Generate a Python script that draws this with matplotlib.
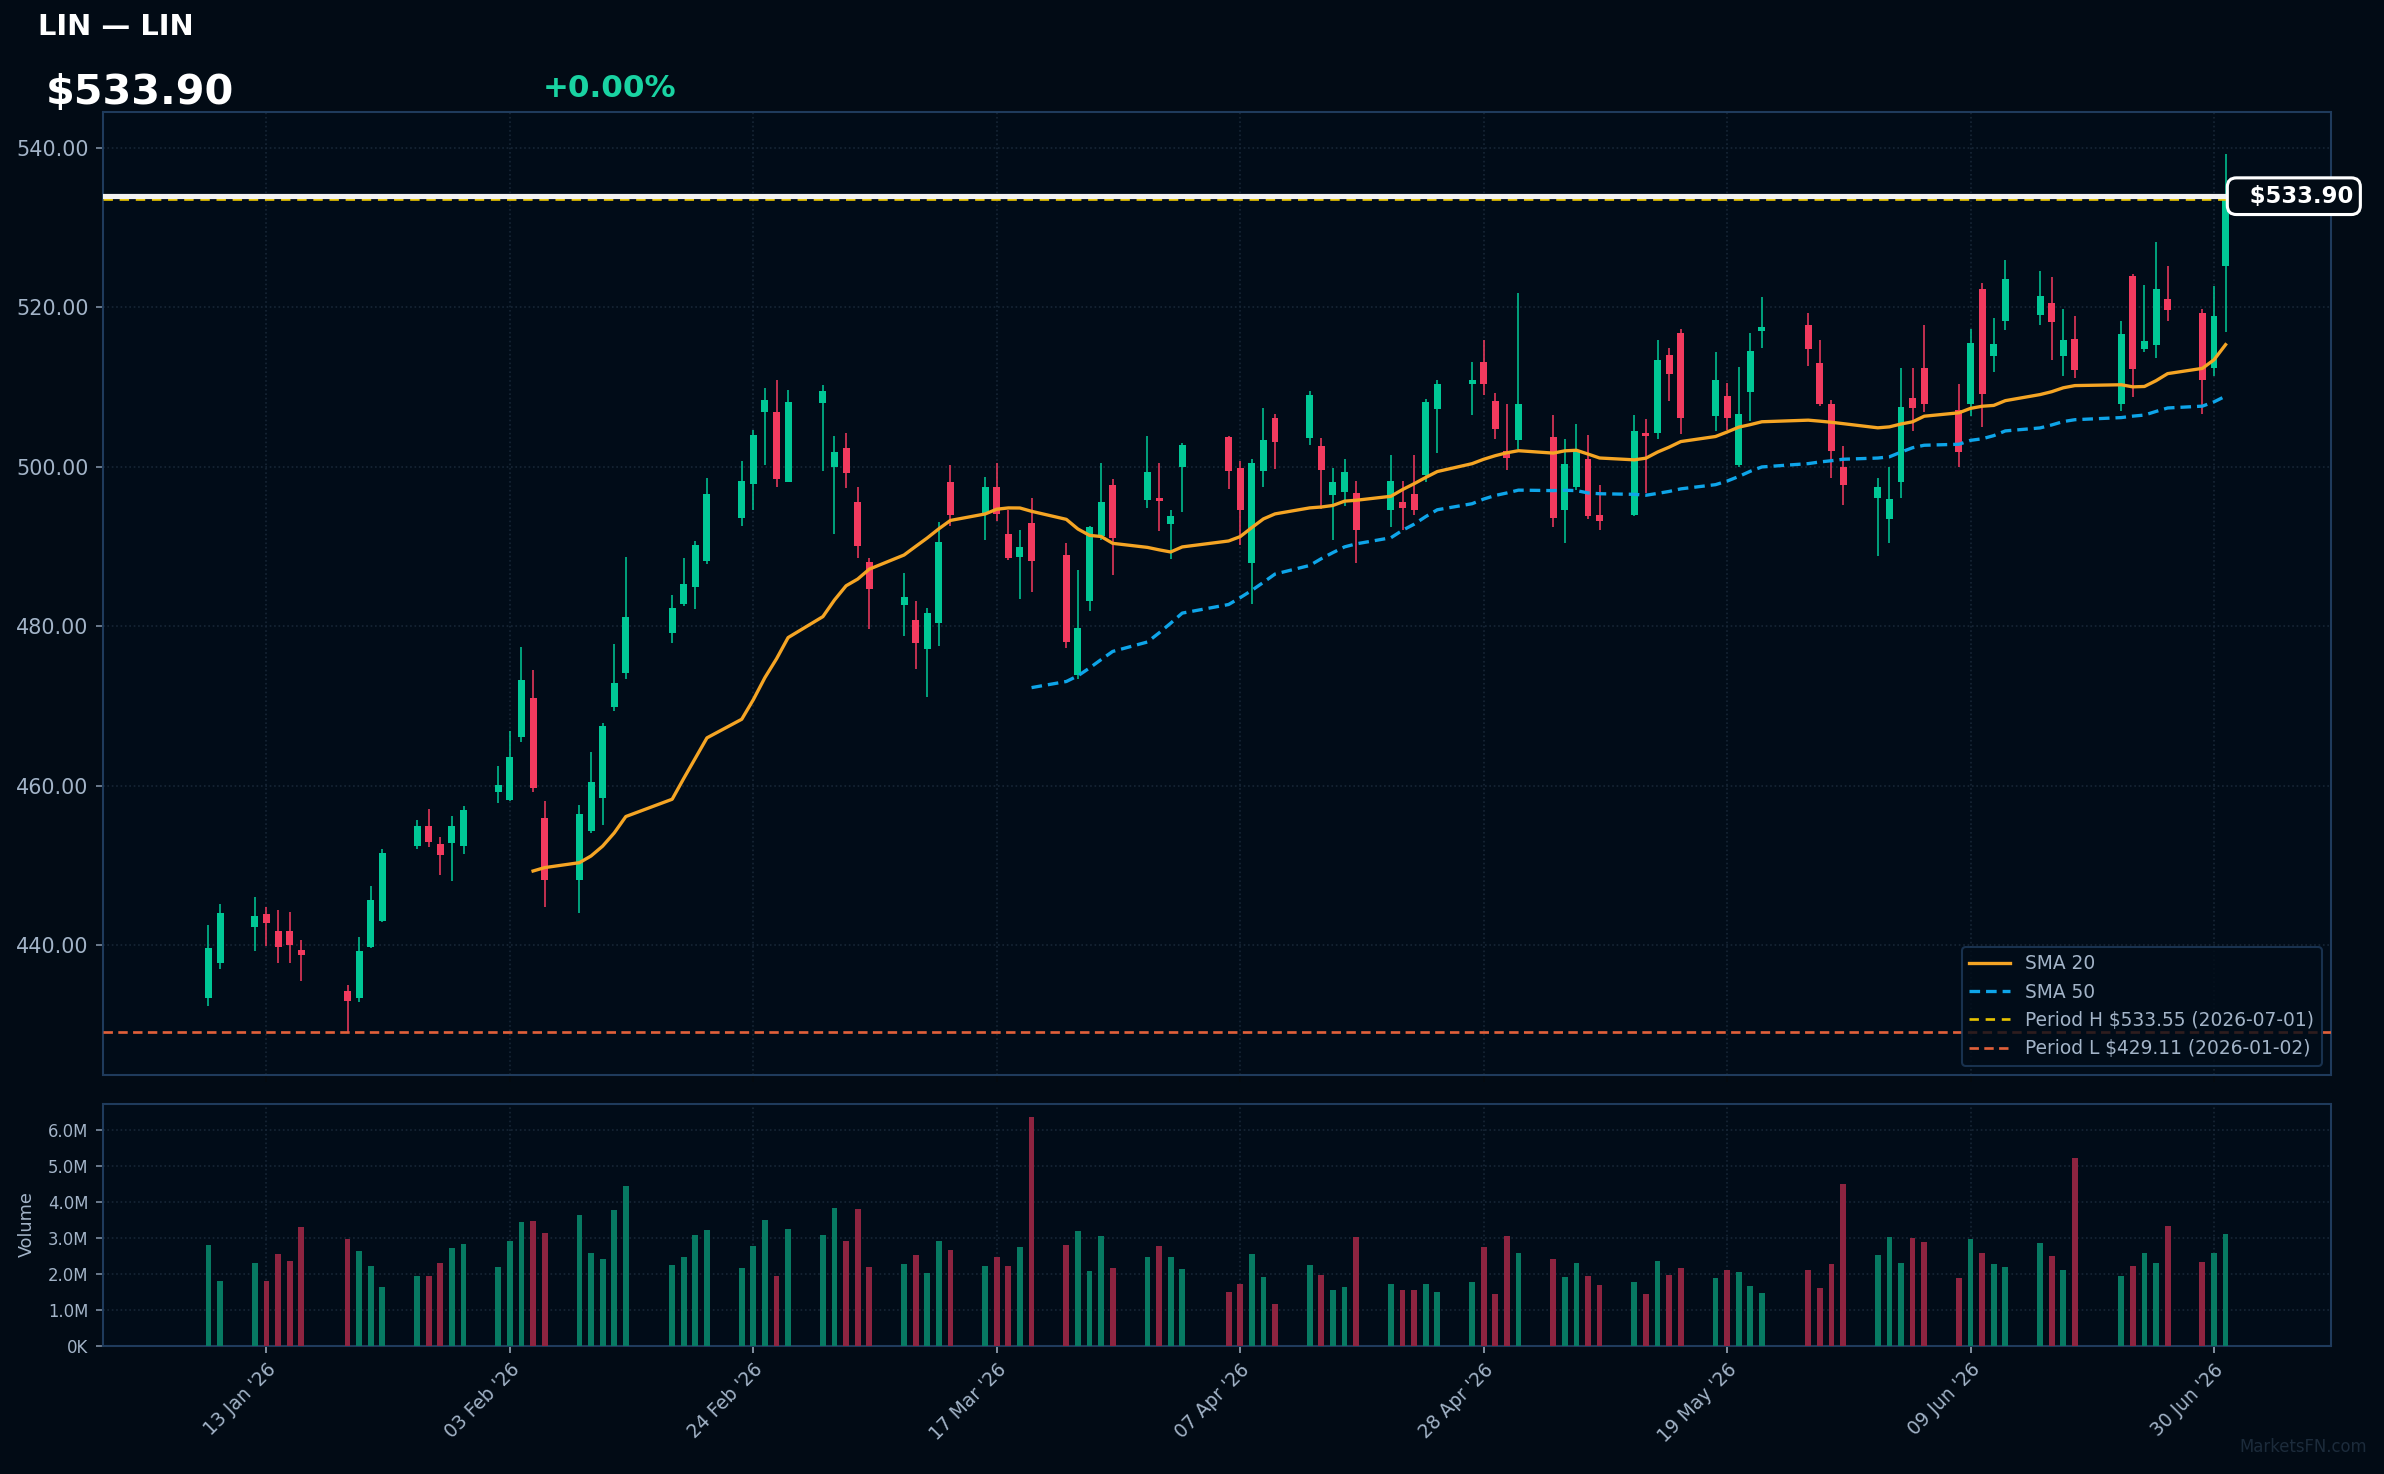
import matplotlib
matplotlib.use('Agg')
import matplotlib.pyplot as plt
import matplotlib.dates as mdates
import matplotlib.transforms as mtransforms
import pandas as pd
import numpy as np

# ---------------- data ----------------
dates = [
    '2026-01-08','2026-01-09','2026-01-12','2026-01-13','2026-01-14','2026-01-15','2026-01-16',
    '2026-01-20','2026-01-21','2026-01-22','2026-01-23','2026-01-26','2026-01-27','2026-01-28',
    '2026-01-29','2026-01-30',
    '2026-02-02','2026-02-03','2026-02-04','2026-02-05','2026-02-06','2026-02-09','2026-02-10',
    '2026-02-11','2026-02-12','2026-02-13','2026-02-17','2026-02-18','2026-02-19','2026-02-20',
    '2026-02-23','2026-02-24','2026-02-25','2026-02-26','2026-02-27',
    '2026-03-02','2026-03-03','2026-03-04','2026-03-05','2026-03-06','2026-03-09','2026-03-10',
    '2026-03-11','2026-03-12','2026-03-13','2026-03-16','2026-03-17','2026-03-18','2026-03-19',
    '2026-03-20','2026-03-23','2026-03-24','2026-03-25','2026-03-26','2026-03-27','2026-03-30',
    '2026-03-31',
    '2026-04-01','2026-04-02','2026-04-06','2026-04-07','2026-04-08','2026-04-09','2026-04-10',
    '2026-04-13','2026-04-14','2026-04-15','2026-04-16','2026-04-17','2026-04-20','2026-04-21',
    '2026-04-22','2026-04-23','2026-04-24','2026-04-27','2026-04-28','2026-04-29','2026-04-30',
    '2026-05-01','2026-05-04','2026-05-05','2026-05-06','2026-05-07','2026-05-08','2026-05-11',
    '2026-05-12','2026-05-13','2026-05-14','2026-05-15','2026-05-18','2026-05-19','2026-05-20',
    '2026-05-21','2026-05-22','2026-05-26','2026-05-27','2026-05-28','2026-05-29',
    '2026-06-01','2026-06-02','2026-06-03','2026-06-04','2026-06-05','2026-06-08','2026-06-09',
    '2026-06-10','2026-06-11','2026-06-12','2026-06-15','2026-06-16','2026-06-17','2026-06-18',
    '2026-06-22','2026-06-23','2026-06-24','2026-06-25','2026-06-26','2026-06-29','2026-06-30',
    '2026-07-01',
]

opens = [
    433.3, 437.7, 442.3, 443.9, 441.8, 441.8, 439.4, 434.2, 433.4, 439.7, 443.0, 452.4, 454.9, 452.7, 452.8, 452.4,
    459.2, 458.2, 466.1, 471.0, 455.9, 448.1, 454.3, 458.4, 469.8, 474.1, 479.1, 482.7, 484.9, 488.1, 493.5, 497.8,
    506.8, 506.9, 498.1,
    508.0, 500.0, 502.3, 495.6, 488.0, 482.6, 480.8, 477.1, 480.4, 498.0, 494.1, 497.4, 491.5, 488.7, 492.9, 488.9,
    473.8, 483.1, 491.3, 497.7, 495.8, 496.1,
    492.8, 500.0, 503.7, 499.8, 487.9, 499.5, 506.1, 503.6, 502.6, 496.4, 496.8, 496.7, 494.5, 495.6, 496.5, 499.0,
    507.2, 510.3, 513.1, 508.2, 502.0,
    503.3, 503.7, 494.5, 497.4, 501.0, 493.9, 493.9, 504.2, 504.2, 514.0, 516.8, 506.3, 508.8, 500.2, 509.4, 517.0,
    517.8, 513.0, 507.9, 500.0,
    496.0, 493.4, 498.0, 508.6, 512.3, 507.1, 507.9, 522.3, 513.9, 518.3, 519.0, 520.5, 513.9, 516.0, 507.9, 523.9,
    514.7, 515.2, 521.0, 519.2, 512.3,
    525.2,
]
highs = [
    442.5, 445.1, 446.0, 444.8, 444.4, 444.1, 440.6, 435.0, 441.0, 447.4, 452.0, 455.7, 457.1, 453.5, 456.2, 457.4,
    462.4, 466.8, 477.4, 474.5, 458.1, 457.6, 464.2, 467.8, 477.7, 488.7, 483.9, 488.5, 490.7, 498.5, 500.7, 504.6,
    509.8, 510.8, 509.6,
    510.2, 503.8, 504.2, 497.4, 488.5, 486.7, 483.2, 482.2, 493.0, 500.2, 498.7, 500.5, 494.6, 492.0, 496.0, 490.4,
    487.0, 492.6, 500.5, 498.4, 503.8, 500.4,
    494.6, 502.9, 503.8, 500.7, 501.0, 507.3, 506.6, 509.5, 503.6, 499.8, 500.9, 498.2, 501.5, 498.2, 501.4, 508.5,
    510.8, 513.1, 515.9, 509.2, 507.8,
    521.7, 506.4, 503.5, 505.3, 503.9, 497.7, 506.4, 505.9, 515.9, 514.9, 517.2, 514.3, 510.5, 512.5, 516.7, 521.3,
    519.2, 515.9, 508.4, 502.6,
    498.5, 499.9, 512.3, 512.3, 517.8, 510.4, 517.2, 523.0, 518.6, 525.9, 524.5, 523.8, 519.7, 518.9, 518.2, 524.1,
    522.8, 528.1, 525.1, 519.7, 522.7,
    539.2,
]
lows = [
    432.3, 437.0, 439.3, 439.9, 437.8, 437.7, 435.5, 429.1, 432.9, 439.6, 442.9, 452.1, 452.3, 448.8, 448.0, 451.4,
    457.8, 458.1, 465.5, 459.2, 444.8, 444.0, 454.1, 455.1, 469.4, 473.3, 477.9, 482.5, 482.1, 487.8, 492.6, 494.5,
    500.2, 497.4, 498.1,
    499.5, 491.5, 497.3, 488.5, 479.6, 478.7, 474.6, 471.1, 477.5, 492.6, 490.8, 493.2, 488.3, 483.4, 484.3, 477.2,
    473.4, 481.9, 490.8, 486.4, 494.8, 491.9,
    488.4, 494.3, 497.2, 490.1, 482.7, 497.4, 499.7, 502.7, 494.7, 490.8, 495.1, 487.9, 492.4, 492.1, 493.9, 498.0,
    501.7, 506.4, 509.0, 503.4, 499.6,
    502.2, 492.4, 490.4, 497.1, 493.4, 492.1, 493.8, 496.7, 503.5, 508.2, 504.1, 504.5, 504.6, 499.9, 505.7, 514.9,
    512.6, 507.6, 498.5, 495.2,
    488.8, 490.4, 496.0, 504.4, 506.9, 499.9, 506.3, 504.9, 511.9, 517.1, 517.7, 513.4, 511.3, 511.1, 507.0, 508.7,
    514.3, 513.6, 518.3, 506.6, 511.4,
    516.9,
]
closes = [
    439.6, 444.0, 443.6, 442.8, 439.8, 440.0, 438.8, 433.0, 439.3, 445.7, 451.5, 454.9, 452.9, 451.3, 454.9, 456.9,
    460.1, 463.6, 473.2, 459.7, 448.1, 456.4, 460.4, 467.5, 472.9, 481.1, 482.2, 485.3, 490.1, 496.5, 498.2, 504.0,
    508.3, 498.4, 508.1,
    509.5, 501.8, 499.2, 490.0, 484.6, 483.6, 477.9, 481.6, 490.5, 493.9, 497.4, 494.1, 488.5, 489.9, 488.2, 478.0,
    479.8, 492.4, 495.5, 491.0, 499.3, 495.7,
    493.8, 502.7, 499.5, 494.6, 500.5, 503.3, 503.1, 509.0, 499.6, 498.0, 499.3, 492.1, 498.2, 494.8, 494.5, 508.1,
    510.3, 510.8, 510.3, 504.7, 501.1,
    507.9, 493.5, 500.3, 501.9, 493.8, 493.2, 504.4, 503.8, 513.3, 511.6, 506.1, 510.9, 506.1, 506.6, 514.5, 517.5,
    514.8, 507.8, 501.9, 497.7,
    497.4, 495.9, 507.5, 507.4, 507.8, 501.8, 515.5, 509.1, 515.4, 523.5, 521.4, 518.1, 515.9, 512.1, 516.6, 512.2,
    515.8, 522.3, 519.6, 510.9, 518.9,
    533.9,
]
volumes_m = [
    2.79, 1.79, 2.29, 1.79, 2.54, 2.34, 3.29, 2.95, 2.62, 2.20, 1.62, 1.93, 1.93, 2.29, 2.70, 2.81,
    2.18, 2.90, 3.43, 3.45, 3.12, 3.62, 2.56, 2.40, 3.76, 4.43, 2.23, 2.45, 3.06, 3.20, 2.15, 2.76, 3.48, 1.93, 3.23,
    3.06, 3.81, 2.90, 3.79, 2.18, 2.26, 2.51, 2.01, 2.90, 2.65, 2.20, 2.45, 2.20, 2.73, 6.34, 2.79, 3.18, 2.06, 3.04,
    2.15, 2.45, 2.76,
    2.45, 2.12, 1.48, 1.70, 2.54, 1.90, 1.15, 2.23, 1.95, 1.54, 1.62, 3.01, 1.70, 1.54, 1.54, 1.70, 1.48, 1.76, 2.73,
    1.43, 3.04,
    2.56, 2.40, 1.90, 2.29, 1.93, 1.68, 1.76, 1.43, 2.34, 1.95, 2.15, 1.87, 2.09, 2.04, 1.65, 1.45, 2.09, 1.59, 2.26,
    4.48,
    2.51, 3.01, 2.29, 2.98, 2.87, 1.87, 2.95, 2.56, 2.26, 2.18, 2.84, 2.48, 2.09, 5.20, 1.93, 2.20, 2.56, 2.29, 3.31,
    2.31, 2.56,
    3.09,
]

tick_dates = ['2026-01-13', '2026-02-03', '2026-02-24', '2026-03-17', '2026-04-07',
              '2026-04-28', '2026-05-19', '2026-06-09', '2026-06-30']
tick_labels = ["13 Jan '26", "03 Feb '26", "24 Feb '26", "17 Mar '26", "07 Apr '26",
               "28 Apr '26", "19 May '26", "09 Jun '26", "30 Jun '26"]
price_ticks = [440, 460, 480, 500, 520, 540]
vol_ticks_m = [0, 1, 2, 3, 4, 5, 6]
vol_tick_labels = ['0K', '1.0M', '2.0M', '3.0M', '4.0M', '5.0M', '6.0M']

period_high = 533.55
period_low = 429.11
last_price = 533.90
title_text = 'LIN — LIN'
price_text = '$533.90'
change_text = '+0.00%'
label_h = 'Period H $533.55 (2026-07-01)'
label_l = 'Period L $429.11 (2026-01-02)'

# ---------------- style ----------------
BG = '#020b15'
AX_BG = '#010c18'
SPINE = '#1f3b5c'
GRID = '#172636'
TXT = '#a3b4c8'
UP = '#00c896'
DOWN = '#f23a5e'
VUP = '#077a62'
VDOWN = '#8e2440'

plt.rcParams['font.family'] = ['DejaVu Sans']

DPI = 149
fig = plt.figure(figsize=(2384 / DPI, 1474 / DPI), dpi=DPI, facecolor=BG)
ax = fig.add_axes([0.0432, 0.2707, 0.9346, 0.6530], facecolor=AX_BG)
axv = fig.add_axes([0.0432, 0.0871, 0.9346, 0.1639], facecolor=AX_BG, sharex=ax)

x = mdates.date2num(pd.to_datetime(dates))
o = np.array(opens); h = np.array(highs); l = np.array(lows); c = np.array(closes)
up = c >= o
cols = np.where(up, UP, DOWN)
vcols = np.where(up, VUP, VDOWN)

# candles
ax.vlines(x, l, h, colors=cols, lw=0.75, zorder=3)
body_bottom = np.minimum(o, c)
body_h = np.maximum(np.abs(c - o), 0.25)
ax.bar(x, body_h, bottom=body_bottom, width=0.6, color=cols, linewidth=0, zorder=4)

# moving averages
cs = pd.Series(closes)
sma20 = cs.rolling(20).mean()
sma50 = cs.rolling(50).mean()
ax.plot(x, sma20, color='#f5a524', lw=1.6, label='SMA 20', zorder=5)
ax.plot(x, sma50, color='#0ea5e9', lw=1.6, ls='--', dashes=(3.2, 1.8), label='SMA 50', zorder=5)

ax.axhline(period_high, color='#e6c200', lw=1.3, ls='--', dashes=(3.5, 2.5), label=label_h, zorder=5)
ax.axhline(period_low, color='#e0603a', lw=1.3, ls='--', dashes=(3.5, 2.0), label=label_l, zorder=5)
ax.axhline(last_price, color='#f2f2f2', lw=2.5, zorder=6)

ax.set_xlim(x[0] - 9.1, x[-1] + 9.1)
ax.set_ylim(423.7, 544.4)

ax.set_yticks(price_ticks)
ax.set_yticklabels([f'{p:.2f}' for p in price_ticks])

tx = mdates.date2num(pd.to_datetime(tick_dates))
axv.set_xticks(tx)
axv.set_xticklabels(tick_labels, rotation=45, ha='right', rotation_mode='anchor')

for a in (ax, axv):
    a.grid(True, which='major', color=GRID, linestyle=':', linewidth=0.8)
    a.set_axisbelow(True)
    for s in a.spines.values():
        s.set_color(SPINE)
        s.set_linewidth(1.0)

ax.tick_params(axis='y', colors=TXT, labelsize=10, length=3.5, color='#7f8fa3')
ax.tick_params(axis='x', labelbottom=False, length=3.5, color='#050a10')
axv.tick_params(axis='x', colors=TXT, labelsize=9, length=3.5, color='#9aa8b8')
axv.tick_params(axis='y', colors=TXT, labelsize=8, length=3.5, color='#7f8fa3')

# volume
vol = np.array(volumes_m) * 1e6
axv.bar(x, vol, width=0.5, color=vcols, linewidth=0, zorder=3)
axv.set_ylim(0, 6.71e6)
axv.set_yticks([v * 1e6 for v in vol_ticks_m])
axv.set_yticklabels(vol_tick_labels)
fig.text(0.0113, 0.1696, 'Volume', rotation=90, color=TXT, fontsize=8.5, ha='center', va='center')

# legend
leg = ax.legend(loc='lower right', fontsize=9, frameon=True, facecolor=AX_BG, edgecolor=SPINE,
                labelcolor=TXT, borderaxespad=0.5, handlelength=2.2, fancybox=True)
leg.get_frame().set_linewidth(1.0)
leg.set_zorder(10)

# last price label
trans = mtransforms.blended_transform_factory(ax.transAxes, ax.transData)
ax.text(0.9565, last_price, '  ' + price_text, transform=trans, ha='left', va='center',
        color='white', fontsize=11, fontweight='bold', zorder=12, clip_on=False,
        bbox=dict(boxstyle='round,pad=0.3,rounding_size=0.4', fc=BG, ec='white', lw=1.5))

# header
fig.text(0.016, 0.9817, title_text, color='white', fontsize=14, fontweight='bold', ha='left', va='center')
fig.text(0.0193, 0.937, price_text, color='white', fontsize=20, fontweight='bold', ha='left', va='center')
fig.text(0.2278, 0.940, change_text, color='#19d3a2', fontsize=15, fontweight='bold', ha='left', va='center')
fig.text(0.993, 0.0183, 'MarketsFN.com', color='#1c2b3b', fontsize=8, ha='right', va='center')

fig.savefig('out.png', dpi=DPI, facecolor=BG)
